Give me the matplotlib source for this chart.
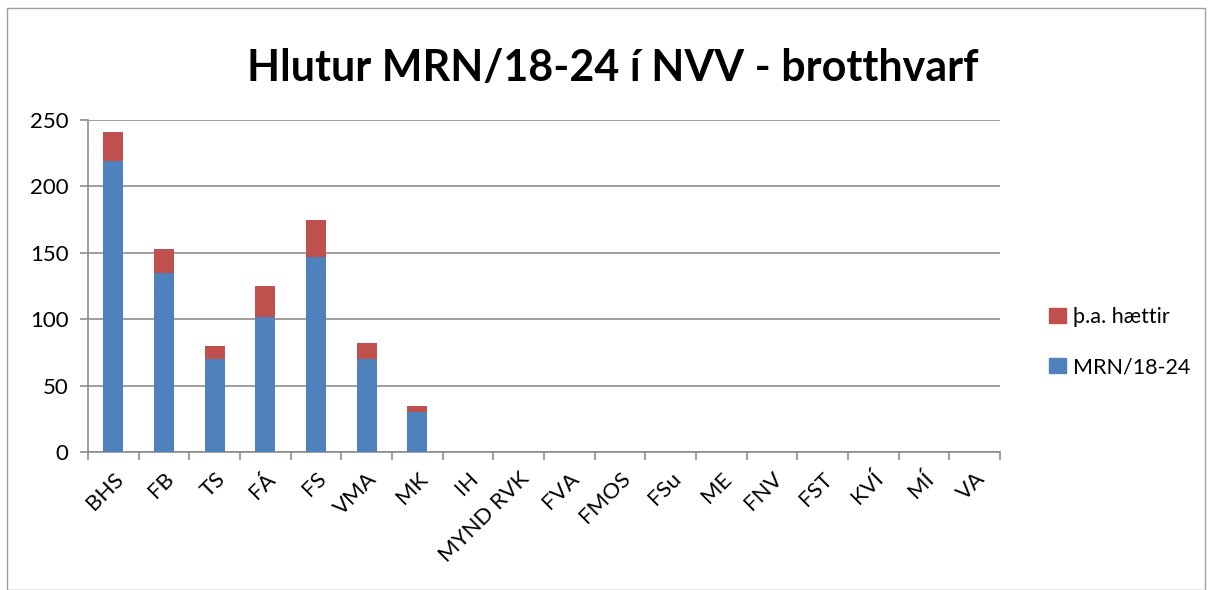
import matplotlib
matplotlib.use("Agg")
import matplotlib.pyplot as plt
from matplotlib.patches import Rectangle, Patch
import numpy as np

categories = ["BHS", "FB", "TS", "FÁ", "FS", "VMA", "MK", "IH", "MYND RVK", "FVA",
              "FMOS", "FSu", "ME", "FNV", "FST", "KVÍ", "MÍ", "VA"]
mrn = [219, 135, 70, 102, 147, 70, 30, 0, 0, 0, 0, 0, 0, 0, 0, 0, 0, 0]
haettir = [22, 18, 10, 23, 28, 12, 5, 0, 0, 0, 0, 0, 0, 0, 0, 0, 0, 0]
yticks = [0, 50, 100, 150, 200, 250]

blue = "#4F81BD"
red = "#C0504D"
grid = "#8C8C8C"

plt.rcParams['font.family'] = ['Lato', 'DejaVu Sans']

fig = plt.figure(figsize=(12.13, 5.9), dpi=100)
fig.patches.append(Rectangle((7/1213, 0), (1205-7)/1213, (590-8)/590, transform=fig.transFigure,
                             fill=False, edgecolor="#A0A0A0", linewidth=1))
ax = fig.add_axes([88/1213, (590-452)/590, (1000-88)/1213, (452-120)/590])

x = np.arange(len(categories))
ax.bar(x, mrn, width=0.4, color=blue, label="MRN/18-24", zorder=3)
ax.bar(x, haettir, width=0.4, bottom=mrn, color=red, label="þ.a. hættir", zorder=3)

ax.set_xlim(-0.5, len(categories) - 0.5)
ax.set_ylim(0, 250)
ax.set_yticks(yticks)
ax.set_yticklabels([str(v) for v in yticks], fontsize=16)
ax.yaxis.grid(True, color=grid, linewidth=1.2, zorder=0)
ax.tick_params(axis='y', length=6, color=grid, width=1.2, pad=8)

ax.set_xticks(x)
ax.set_xticklabels(categories, rotation=45, ha='right', rotation_mode='anchor', fontsize=16)
ax.set_xticks(np.arange(-0.5, len(categories), 1), minor=True)
ax.tick_params(axis='x', which='major', length=0, pad=12)
ax.tick_params(axis='x', which='minor', length=6, color=grid, width=1.2)

for s in ['top', 'right']:
    ax.spines[s].set_visible(False)
for s in ['left', 'bottom']:
    ax.spines[s].set_color(grid)
    ax.spines[s].set_linewidth(1.2)

fig.text(613/1213, 1 - 68/590, "Hlutur MRN/18-24 í NVV - brotthvarf", ha='center', va='center',
         fontsize=31, fontweight='bold')

handles = [Patch(color=red, label="þ.a. hættir"), Patch(color=blue, label="MRN/18-24")]
fig.legend(handles=handles, loc='center left', bbox_to_anchor=(1030/1213, 1 - 342/590),
           frameon=False, fontsize=15.5, labelspacing=1.4, handlelength=0.75, handleheight=0.75,
           handletextpad=0.35)

fig.savefig("out.png", dpi=100)
